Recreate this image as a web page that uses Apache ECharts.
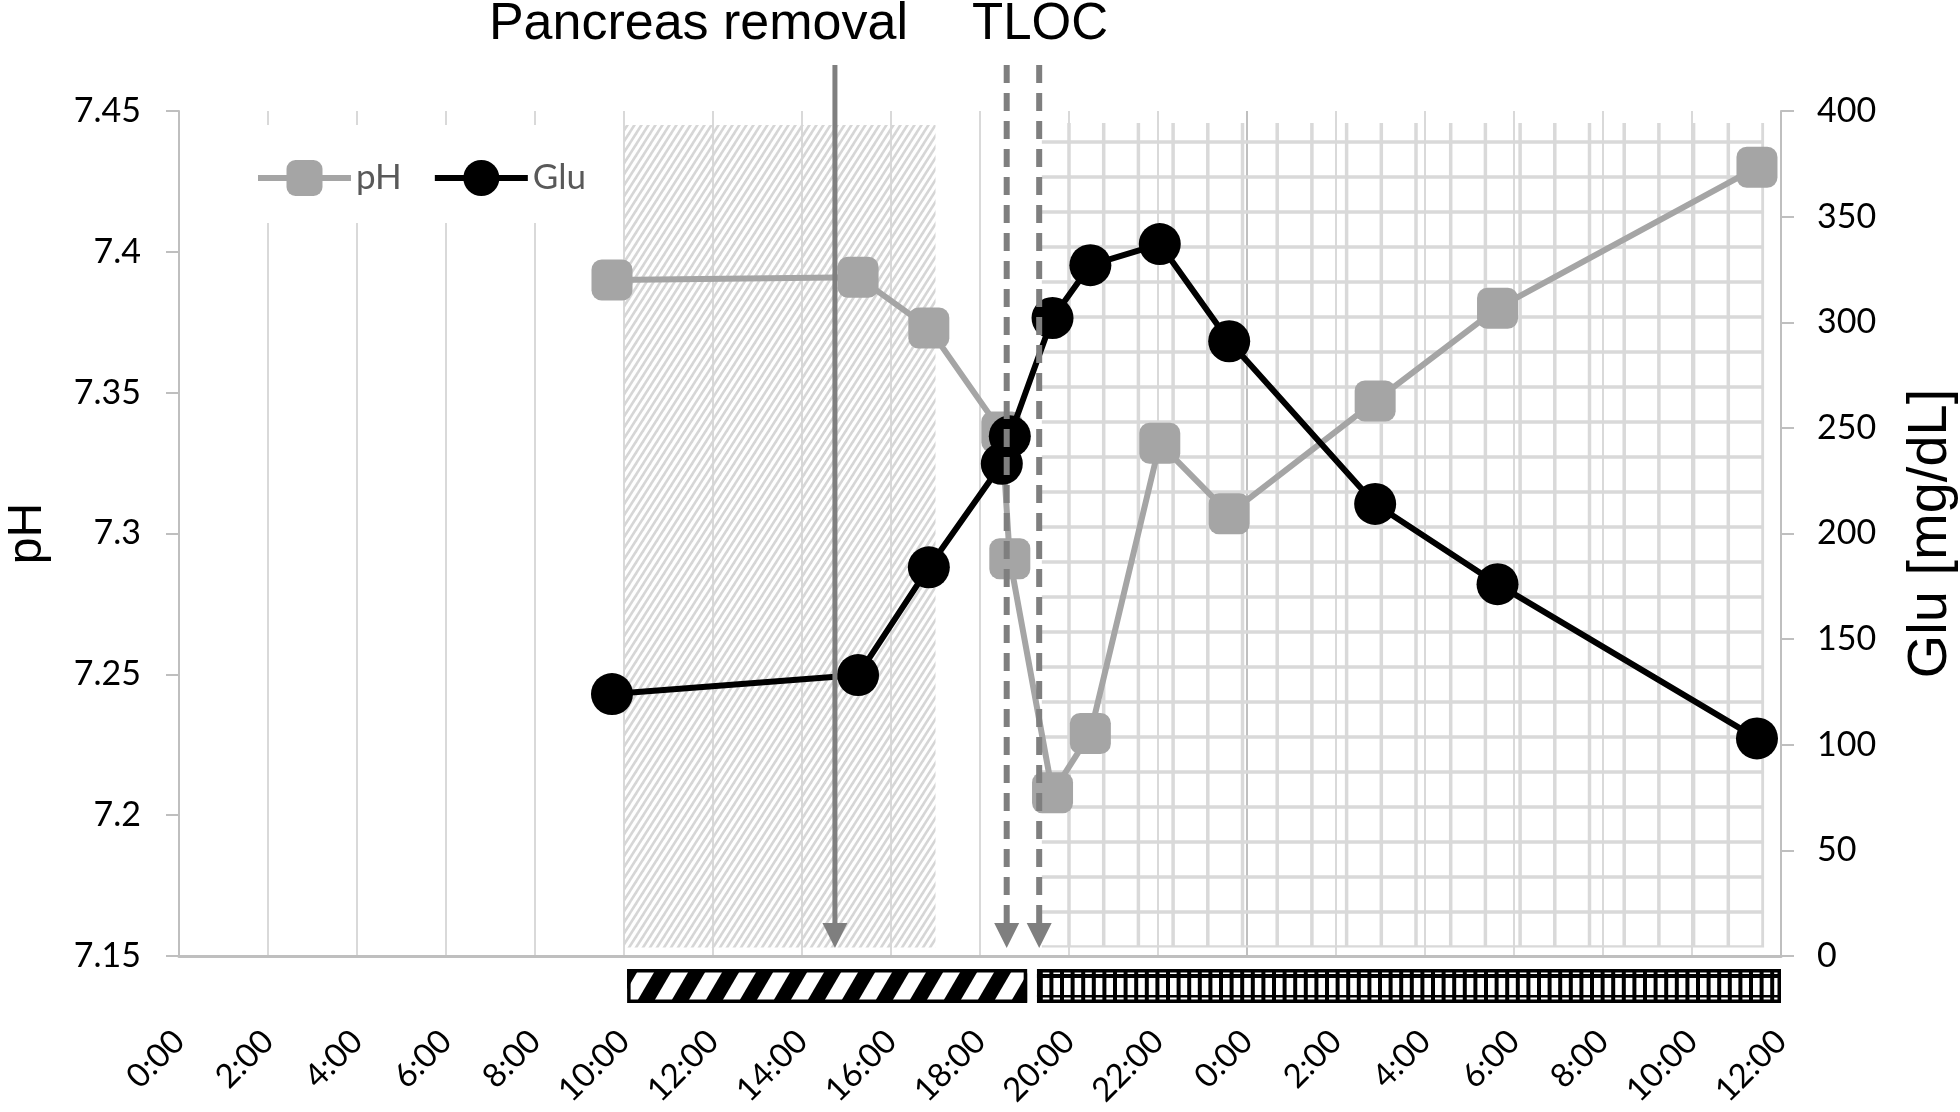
<!DOCTYPE html>
<html><head><meta charset="utf-8">
<script src="https://cdn.jsdelivr.net/npm/echarts@6/dist/echarts.min.js"></script>
<style>html,body{margin:0;padding:0;background:#fff}#c{width:1960px;height:1112px}</style>
</head><body><div id="c"></div>
<script>
// ---- data (hours since 0:00 of day 1) ----
const timeHours = [9.73, 15.26, 16.85, 18.49, 18.67, 19.63, 20.48, 22.04, 23.6, 26.88, 29.63, 35.46];
const phValues  = [7.390, 7.391, 7.373, 7.336, 7.291, 7.208, 7.229, 7.332, 7.307, 7.347, 7.380, 7.430];
const gluValues = [124, 133, 184, 233, 246, 302, 327, 337, 291, 214, 176, 103];
const xTickLabels = ['0:00','2:00','4:00','6:00','8:00','10:00','12:00','14:00','16:00','18:00','20:00','22:00',
                     '0:00','2:00','4:00','6:00','8:00','10:00','12:00'];
const pancreasRemovalHour = [14.74];
const tlocHours = [18.6, 19.33];
const hatchedPeriod = [10.0, 17.0];      // shaded (diagonal) period in plot
const griddedPeriod = [19.39, 35.62];    // shaded (grid) period in plot
const barPeriods = [[10.07, 19.06], [19.28, 36.0]];

// ---- patterns ----
function makeCanvas(w, h, draw) { const c = document.createElement('canvas'); c.width = w; c.height = h; draw(c.getContext('2d'), w, h); return c; }
const hatchTile = makeCanvas(7, 11, (g, w, h) => {
  g.strokeStyle = '#d6d6d6'; g.lineWidth = 2.6;
  for (const o of [-w, 0, w]) { g.beginPath(); g.moveTo(o - w, 2 * h); g.lineTo(o + 2 * w, -h); g.stroke(); }
});
const gridTile = makeCanvas(347, 35, (g) => {
  g.fillStyle = '#d9d9d9';
  for (let k = 0; k < 10; k++) { const x = 28 + 34.7 * k; g.fillRect(x - 1.75, 0, 3.5, 35); }
  g.fillRect(0, 0.25, 347, 3.5);
});
const stripeTile = makeCanvas(34, 58, (g, w, h) => {
  g.fillStyle = '#000';
  for (const o of [-w, 0, w]) {
    g.beginPath(); g.moveTo(o, h); g.lineTo(o + 17, h); g.lineTo(o + 17 + w, 0); g.lineTo(o + w, 0); g.closePath(); g.fill();
  }
});
const cellTile = makeCanvas(53, 10, (g) => {
  g.fillStyle = '#000';
  for (let k = 0; k < 5; k++) g.fillRect(10.6 * k, 0, 4, 10);
});

const splitColors = xTickLabels.map((_, i) => i === 12 ? '#bfbfbf' : '#d9d9d9');
const labelFont = 'Lato';

const chart = echarts.init(document.getElementById('c'), null, { renderer: 'canvas' });
chart.setOption({
  animation: false,
  backgroundColor: '#fff',
  grid: { left: 179, right: 179, top: 111, bottom: 156, containLabel: false, outerBoundsMode: 'none' },
  legend: {
    data: ['pH', 'Glu'], left: 230, top: 125,
    itemWidth: 93, itemHeight: 45, itemGap: 30,
    backgroundColor: '#fff', padding: [35, 20, 27, 25],
    lineStyle: { width: 6 },
    textStyle: { fontSize: 35, fontFamily: labelFont, color: '#595959' }
  },
  graphic: [
    { type: 'text', x: 908, y: 25, z: 100, style: { text: 'Pancreas removal', fontSize: 52, fontFamily: 'Liberation Sans', fill: '#000', align: 'right', verticalAlign: 'middle' } },
    { type: 'text', x: 1040, y: 25, z: 100, style: { text: 'TLOC', fontSize: 51, fontFamily: 'Liberation Sans', fill: '#000', align: 'center', verticalAlign: 'middle' } }
  ],
  xAxis: {
    type: 'value', min: 0, max: 36, interval: 2,
    axisLine: { show: true, onZero: false, lineStyle: { color: '#bfbfbf', width: 3 } },
    axisTick: { show: false },
    splitLine: { show: true, lineStyle: { color: splitColors, width: 2 } },
    axisLabel: { rotate: 45, margin: 80, fontSize: 33, fontFamily: labelFont, color: '#000',
      formatter: v => xTickLabels[Math.round(v / 2)] }
  },
  yAxis: [
    { type: 'value', position: 'left', min: 7.15, max: 7.45, interval: 0.05,
      name: 'pH', nameLocation: 'middle', nameRotate: 90, nameGap: 127,
      nameTextStyle: { fontSize: 48, fontFamily: 'Liberation Sans', color: '#000' },
      axisLine: { show: true, lineStyle: { color: '#bfbfbf', width: 2 } },
      axisTick: { show: true, length: 13, lineStyle: { color: '#bfbfbf', width: 2 } },
      splitLine: { show: false },
      axisLabel: { margin: 38, fontSize: 34, fontFamily: labelFont, color: '#000', formatter: v => String(+v.toFixed(2)) } },
    { type: 'value', position: 'right', min: 0, max: 400, interval: 50,
      name: 'Glu [mg/dL]', nameLocation: 'middle', nameRotate: 90, nameGap: 122,
      nameTextStyle: { fontSize: 56, fontFamily: 'Liberation Sans', color: '#000' },
      axisLine: { show: true, lineStyle: { color: '#bfbfbf', width: 2 } },
      axisTick: { show: true, length: 13, lineStyle: { color: '#bfbfbf', width: 2 } },
      splitLine: { show: false },
      axisLabel: { margin: 36, fontSize: 34, fontFamily: labelFont, color: '#000' } }
  ],
  series: [
    { type: 'custom', name: 'regions', z: 1, silent: true, clip: false,
      data: [[hatchedPeriod[0], hatchedPeriod[1], 0, 7.445, 7.153], [griddedPeriod[0], griddedPeriod[1], 1, 7.4457, 7.153]],
      encode: { x: [0, 1], y: [3, 4] },
      renderItem: (params, api) => {
        const p0 = api.coord([api.value(0), api.value(3)]);
        const p1 = api.coord([api.value(1), api.value(4)]);
        const kind = api.value(2);
        return { type: 'rect', shape: { x: p0[0], y: p0[1], width: p1[0] - p0[0], height: p1[1] - p0[1] },
          style: { fill: { image: kind === 0 ? hatchTile : gridTile, repeat: 'repeat' } } };
      } },
    { type: 'line', name: 'pH', yAxisIndex: 0, z: 3,
      data: timeHours.map((t, i) => [t, phValues[i]]),
      symbol: 'roundRect', symbolSize: 41, showSymbol: true,
      itemStyle: { color: '#a5a5a5' }, lineStyle: { color: '#a5a5a5', width: 6 } },
    { type: 'line', name: 'Glu', yAxisIndex: 1, z: 4,
      data: timeHours.map((t, i) => [t, gluValues[i]]),
      symbol: 'circle', symbolSize: 42, showSymbol: true,
      itemStyle: { color: '#000' }, lineStyle: { color: '#000', width: 6 } },
    { type: 'custom', name: 'events', z: 6, silent: true, clip: false,
      data: pancreasRemovalHour.map(t => [t, 7.3, 0]).concat(tlocHours.map(t => [t, 7.3, 1])),
      renderItem: (params, api) => {
        const x = api.coord([api.value(0), 7.45])[0];
        const top = api.coord([api.value(0), 7.45])[1] - 46;
        const tip = api.coord([api.value(0), 7.15])[1] - 8;
        const dashed = api.value(2) === 1;
        return { type: 'group', children: [
          { type: 'line', shape: { x1: x, y1: top, x2: x, y2: tip - 22 },
            style: { stroke: '#7f7f7f', lineWidth: dashed ? 6 : 5, lineDash: dashed ? [18, 10] : null } },
          { type: 'polygon', shape: { points: [[x - 12.5, tip - 25], [x + 12.5, tip - 25], [x, tip]] },
            style: { fill: '#7f7f7f' } }
        ] };
      } },
    { type: 'custom', name: 'bars', z: 6, silent: true, clip: false,
      data: barPeriods.map((p, i) => [p[0], p[1], i, 7.15]),
      encode: { x: [0, 1], y: 3 },
      renderItem: (params, api) => {
        const s = api.coord([api.value(0), 7.15]);
        const e = api.coord([api.value(1), 7.15]);
        const kind = api.value(2);
        const x0 = s[0], w = e[0] - s[0], y0 = s[1] + 13, h = 34;
        const ch = [];
        if (kind === 0) {
          ch.push({ type: 'rect', shape: { x: x0, y: y0, width: w, height: h }, style: { fill: '#fff' } });
          ch.push({ type: 'rect', shape: { x: x0, y: y0, width: w, height: h }, style: { fill: { image: stripeTile, repeat: 'repeat' } } });
        } else {
          ch.push({ type: 'rect', shape: { x: x0, y: y0, width: w, height: h }, style: { fill: '#fff' } });
          ch.push({ type: 'rect', shape: { x: x0, y: y0 + 5, width: w, height: 4 }, style: { fill: '#000' } });
          ch.push({ type: 'rect', shape: { x: x0, y: y0 + 26, width: w, height: 2.5 }, style: { fill: '#000' } });
          ch.push({ type: 'rect', shape: { x: x0, y: y0, width: w, height: h }, style: { fill: { image: cellTile, repeat: 'repeat' } } });
        }
        ch.push({ type: 'rect', shape: { x: x0 + 1.75, y: y0 + 1.75, width: w - 3.5, height: h - 3.5 }, style: { fill: null, stroke: '#000', lineWidth: 3.5 } });
        return { type: 'group', children: ch };
      } }
  ]
});
</script>
</body></html>
